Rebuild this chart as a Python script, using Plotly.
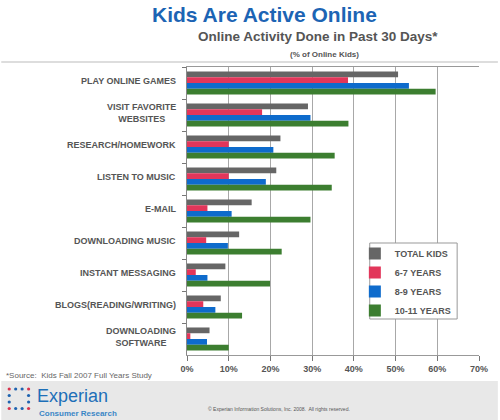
import plotly.graph_objects as go

categories = [
    'PLAY ONLINE GAMES', 'VISIT FAVORITE<br>WEBSITES', 'RESEARCH/HOMEWORK',
    'LISTEN TO MUSIC', 'E-MAIL', 'DOWNLOADING MUSIC', 'INSTANT MESSAGING',
    'BLOGS(READING/WRITING)', 'DOWNLOADING<br>SOFTWARE',
]
series_names = ['TOTAL KIDS', '6-7 YEARS', '8-9 YEARS', '10-11 YEARS']
total_kids = [50.6, 29.0, 22.4, 21.4, 15.5, 12.5, 9.2, 8.1, 5.4]
age_6_7 = [38.6, 18.0, 10.0, 10.0, 4.9, 4.6, 2.1, 3.9, 0.8]
age_8_9 = [53.2, 29.6, 20.7, 18.9, 10.7, 9.8, 4.9, 6.8, 4.8]
age_10_11 = [59.6, 38.7, 35.4, 34.7, 29.6, 22.7, 19.9, 13.2, 10.0]
x_ticks = [0, 10, 20, 30, 40, 50, 60, 70]
x_tick_labels = [f'{t}%' for t in x_ticks]

colors = ['#666666', '#e2365a', '#0e6bcc', '#3c7e30']
font = 'Liberation Sans'
label_grey = '#555555'

# pixel -> paper helpers (plot area is 187..481 x 67..355)
px_x = lambda p: (p - 187) / 294
px_y = lambda p: (355 - p) / 288

fig = go.Figure()
for name, vals, col in zip(series_names, [total_kids, age_6_7, age_8_9, age_10_11], colors):
    fig.add_trace(go.Bar(
        y=categories, x=vals, name=name, orientation='h',
        marker=dict(color=col, line_width=0),
    ))

# category labels as annotations so two-line labels stay centred
for cat in categories:
    fig.add_annotation(
        text=f'<b>{cat}</b>', x=0, xref='paper', y=cat, yref='y',
        xanchor='right', yanchor='middle', xshift=-9, yshift=2, align='center',
        showarrow=False, font=dict(family=font, size=9, color=label_grey),
    )

def note(text, x, y, size, color, anchor='center'):
    fig.add_annotation(text=text, x=px_x(x), y=px_y(y), xref='paper', yref='paper',
                       xanchor=anchor, yanchor='middle', showarrow=False,
                       font=dict(family=font, size=size, color=color))

note('<b>Kids Are Active Online</b>', 265, 15, 21, '#1c64b4')
note('<b>Online Activity Done in Past 30 Days*</b>', 319, 37, 13.5, '#555555')
note('<b>(% of Online Kids)</b>', 325, 55, 8, '#555555')
note('*Source:  Kids Fall 2007 Full Years Study', 3, 375, 8, '#666666', 'left')
note('Experian', 34, 396, 18, '#1d6fb8', 'left')
note('<b>Consumer Research</b>', 36, 413, 8, '#3a86c6', 'left')
note('© Experian Information Solutions, Inc. 2008.  All rights reserved.', 280, 409, 5, '#555555')

# footer band and divider line
fig.add_shape(type='rect', xref='paper', yref='paper', x0=px_x(0), x1=px_x(500),
              y0=px_y(381), y1=px_y(420), fillcolor='#e8e8e8', line_width=0, layer='below')
fig.add_shape(type='line', xref='paper', yref='paper', x0=px_x(0), x1=px_x(500),
              y0=px_y(62), y1=px_y(62), line=dict(color='#dddddd', width=2))

# legend frame
fig.add_shape(type='rect', xref='paper', yref='paper', x0=px_x(371), x1=px_x(459),
              y0=px_y(319), y1=px_y(243), fillcolor='white', line=dict(color='#999999', width=1))

# logo dots
for i in range(4):
    for j in range(4):
        if not (i in (0, 3) or j in (0, 3)):
            continue
        c = '#d8344f' if (i in (0, 3) and j in (0, 3)) else '#1f63b0'
        cx, cy = 8 + i * 6.5, 389 + j * 6.5
        fig.add_shape(type='circle', xref='paper', yref='paper',
                      x0=px_x(cx - 1.6), x1=px_x(cx + 1.6), y0=px_y(cy + 1.6), y1=px_y(cy - 1.6),
                      fillcolor=c, line_width=0)

fig.update_layout(
    width=500, height=420,
    margin=dict(l=187, r=19, t=67, b=65),
    paper_bgcolor='white', plot_bgcolor='white',
    barmode='group', bargap=0.28, bargroupgap=0,
    font=dict(family=font, color=label_grey),
    legend=dict(
        x=px_x(356), y=px_y(239), xanchor='left', yanchor='top',
        bgcolor='rgba(0,0,0,0)', borderwidth=0,
        font=dict(family=font, size=9, color=label_grey, weight='bold'),
        itemwidth=30, tracegroupgap=0,
    ),
)
fig.update_xaxes(
    range=[0, 70], tickvals=x_ticks, ticktext=x_tick_labels,
    showgrid=True, gridcolor='#a8a8a8', gridwidth=1,
    ticks='outside', ticklen=5, tickcolor='#777777',
    showline=True, linecolor='#999999', mirror=True,
    tickfont=dict(family=font, size=9, color=label_grey, weight='bold'),
    zeroline=False,
)
fig.update_yaxes(
    autorange='reversed', showticklabels=False,
    ticks='outside', tickson='boundaries', ticklen=4, tickcolor='#777777',
    showline=True, linecolor='#888888', showgrid=False,
)

fig.write_html('out.html', config={'displayModeBar': False},
               post_script="document.body.style.margin='0';")
